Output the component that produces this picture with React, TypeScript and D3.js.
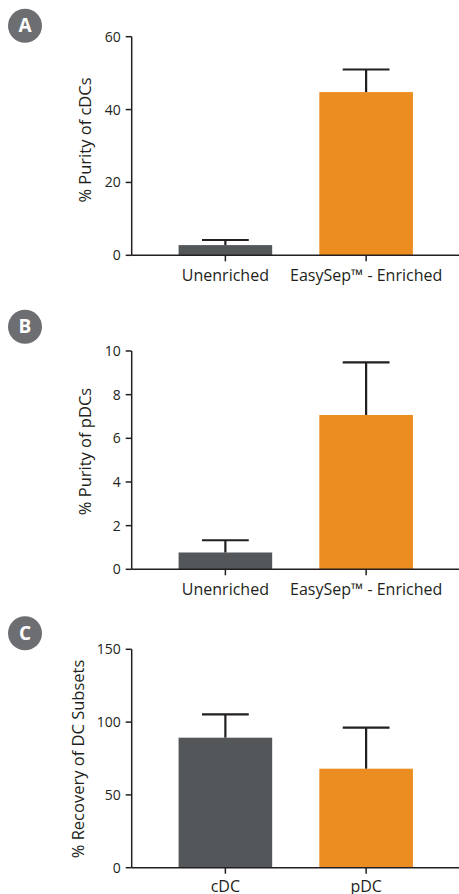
import * as d3 from "d3";

// panel A: purity of cDCs
const purityCats = ["Unenriched", "EasySep™ - Enriched"];
const cdcPurity = [2.8, 44.8];
const cdcPurityErr = [4.2, 51.0];
const cdcTicks = [0, 20, 40, 60];

// panel B: purity of pDCs
const pdcPurity = [0.77, 7.07];
const pdcPurityErr = [1.33, 9.48];
const pdcTicks = [0, 2, 4, 6, 8, 10];

// panel C: recovery
const recoveryCats = ["cDC", "pDC"];
const recovery = [89.3, 68.0];
const recoveryErr = [105.3, 96.2];
const recoveryTicks = [0, 50, 100, 150];

const barColors = ["#53575a", "#ec8d21"];
const ink = "#231f20";
const font = "'Open Sans', sans-serif";

type PanelProps = {
  letter: string;
  top: number; // y of circle center
  y0: number; // pixel of value 0
  y1: number; // pixel of max
  max: number;
  ticks: number[];
  cats: string[];
  values: number[];
  errs: number[];
  label: string;
  labelX: number;
  labelY: number;
  catOffset: number;
};

const Panel = (p: PanelProps) => {
  const axisX = 131.7;
  const y = d3.scaleLinear().domain([0, p.max]).range([p.y0, p.y1]);
  const x = d3
    .scaleBand<string>()
    .domain(p.cats)
    .range([155, 436.5])
    .paddingInner(0.335)
    .paddingOuter(0.1675);
  const bw = x.bandwidth();

  return (
    <g>
      <circle cx={25} cy={p.top} r={17} fill="#6d6e71" />
      <text
        x={25}
        y={p.top + 6.5}
        textAnchor="middle"
        fill="#fff"
        fontWeight="bold"
        fontSize={19}
        fontFamily={font}
      >
        {p.letter}
      </text>

      {p.values.map((v, i) => (
        <rect
          key={i}
          x={x(p.cats[i])}
          y={y(v)}
          width={bw}
          height={y(0) - y(v)}
          fill={barColors[i]}
        />
      ))}

      {p.errs.map((e, i) => {
        const cx = (x(p.cats[i]) as number) + bw / 2;
        return (
          <g key={i} stroke={ink} strokeWidth={2.2}>
            <line x1={cx} x2={cx} y1={y(p.values[i])} y2={y(e)} />
            <line x1={cx - bw / 4} x2={cx + bw / 4} y1={y(e)} y2={y(e)} />
          </g>
        );
      })}

      {/* y axis */}
      <line x1={axisX} x2={axisX} y1={y(p.max)} y2={y(0)} stroke={ink} strokeWidth={1.5} />
      {p.ticks.map((t) => (
        <g key={t}>
          <line x1={axisX - 6} x2={axisX} y1={y(t)} y2={y(t)} stroke={ink} strokeWidth={1.5} />
          <text
            x={axisX - 11}
            y={y(t) + 5}
            textAnchor="end"
            fontSize={14}
            fontFamily={font}
            fill={ink}
          >
            {t}
          </text>
        </g>
      ))}

      {/* x axis */}
      <line x1={axisX} x2={459} y1={y(0)} y2={y(0)} stroke={ink} strokeWidth={1.5} />
      {p.cats.map((c) => {
        const cx = (x(c) as number) + bw / 2;
        return (
          <g key={c}>
            <line x1={cx} x2={cx} y1={y(0)} y2={y(0) + 6} stroke={ink} strokeWidth={1.5} />
            <text
              x={cx}
              y={y(0) + p.catOffset}
              textAnchor="middle"
              fontSize={16}
              fontFamily={font}
              fill={ink}
            >
              {c}
            </text>
          </g>
        );
      })}

      <text
        transform={`translate(${p.labelX},${p.labelY}) rotate(-90)`}
        textAnchor="middle"
        fontSize={16.5}
        fontFamily={font}
        fill={ink}
      >
        {p.label}
      </text>
    </g>
  );
};

export default function App() {
  return (
    <svg
      width={459}
      height={894}
      style={{ position: "absolute", left: 0, top: 0, background: "#fff" }}
    >
      <Panel
        letter="A"
        top={25.7}
        y0={255.3}
        y1={36.7}
        max={60}
        ticks={cdcTicks}
        cats={purityCats}
        values={cdcPurity}
        errs={cdcPurityErr}
        label="% Purity of cDCs"
        labelX={90.5}
        labelY={140}
        catOffset={26}
      />
      <Panel
        letter="B"
        top={326.7}
        y0={569.3}
        y1={351}
        max={10}
        ticks={pdcTicks}
        cats={purityCats}
        values={pdcPurity}
        errs={pdcPurityErr}
        label="% Purity of pDCs"
        labelX={90.5}
        labelY={451.5}
        catOffset={26}
      />
      <Panel
        letter="C"
        top={633.3}
        y0={867.7}
        y1={649.3}
        max={150}
        ticks={recoveryTicks}
        cats={recoveryCats}
        values={recovery}
        errs={recoveryErr}
        label="% Recovery of DC Subsets"
        labelX={84}
        labelY={759}
        catOffset={24}
      />
    </svg>
  );
}
